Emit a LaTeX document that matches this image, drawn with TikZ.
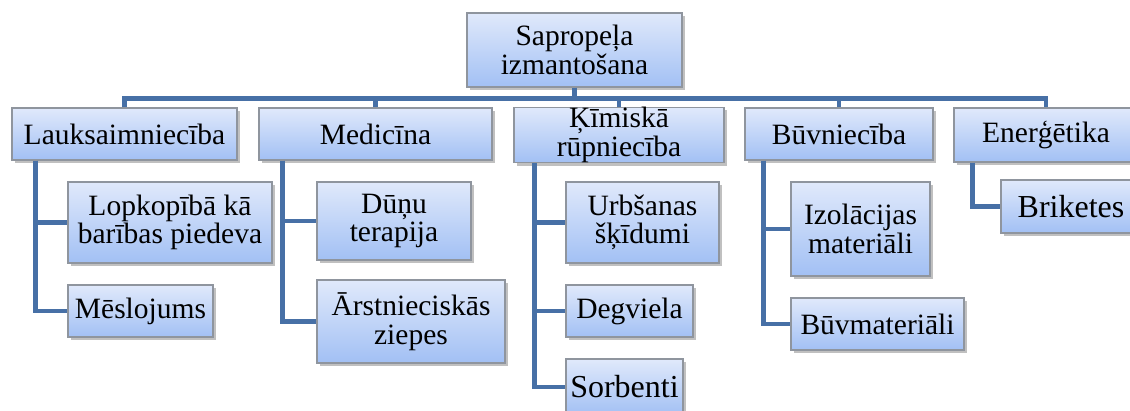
\documentclass[tikz,border=0pt]{standalone}
\usepackage{fontspec}
\setmainfont{Liberation Serif}
\usetikzlibrary{shadows}
\definecolor{linecol}{HTML}{4770A6}
\definecolor{boxtop}{HTML}{E0E9FB}
\definecolor{boxbot}{HTML}{A2C0F4}
\definecolor{boxborder}{HTML}{8F959E}
\tikzset{
  box/.style={draw=boxborder, line width=1.2pt, top color=boxtop, bottom color=boxbot,
    inner sep=0pt, align=center, font=\fontsize{29.5}{28.5}\selectfont,
    drop shadow={shadow xshift=3pt, shadow yshift=-3pt, opacity=0.35, fill=black!70}},
  bigtxt/.style={font=\fontsize{32}{32}\selectfont},
  conn/.style={draw=linecol, line width=4.5pt, line cap=butt, line join=miter}
}
\begin{document}
\begin{tikzpicture}[x=1pt,y=-1pt]
\useasboundingbox (0,0) rectangle (1130,410);
\fill[white] (0,0) rectangle (1130,410);
% root
\node[box, minimum width=215pt, minimum height=74pt] (root) at (574.5,50) {Sapropeļa\\izmantošana};
% level 1
\node[box, minimum width=225pt, minimum height=52pt] (lauk) at (124.5,134) {Lauksaimniecība};
\node[box, minimum width=233pt, minimum height=52pt] (med) at (375.5,134) {Medicīna};
\node[box, minimum width=210pt, minimum height=54pt] (kim) at (619,135) {Ķīmiskā\\rūpniecība};
\node[box, minimum width=188pt, minimum height=52pt] (buv) at (839,134) {Būvniecība};
\node[box, minimum width=184pt, minimum height=54pt] (ener) at (1046,135) {Enerģētika};
% level 2
\node[box, minimum width=204pt, minimum height=81pt] (lop) at (170,222.5) {Lopkopībā kā\\barības piedeva};
\node[box, minimum width=145pt, minimum height=52pt] (mes) at (140.5,311) {Mēslojums};
\node[box, minimum width=154pt, minimum height=78pt] (dun) at (394,221) {Dūņu\\terapija};
\node[box, minimum width=188pt, minimum height=83pt] (ars) at (411,321.5) {Ārstnieciskās\\ziepes};
\node[box, minimum width=153pt, minimum height=81pt] (urb) at (642.5,222.5) {Urbšanas\\šķīdumi};
\node[box, minimum width=127pt, minimum height=52pt] (deg) at (629.5,311) {Degviela};
\node[box, bigtxt, minimum width=117pt, minimum height=56pt] (sor) at (624.5,387) {Sorbenti};
\node[box, minimum width=139pt, minimum height=94pt] (izo) at (860.5,229) {Izolācijas\\materiāli};
\node[box, minimum width=173pt, minimum height=52pt] (bvm) at (877.5,324) {Būvmateriāli};
\node[box, bigtxt, minimum width=140pt, minimum height=53pt] (bri) at (1071,206.5) {Briketes};
% connectors
\path[conn] (root.south) -- ++(0,11) coordinate (bus);
\path[conn] (lauk.north) |- (bus) -| (ener.north);
\path[conn] (bus) -| (med.north);
\path[conn] (bus) -| (kim.north);
\path[conn] (bus) -| (buv.north);
\path[conn] ([xshift=24pt]lauk.south west) |- (lop.west);
\path[conn] ([xshift=24pt]lauk.south west) |- (mes.west);
\path[conn] ([xshift=24pt]med.south west) |- (dun.west);
\path[conn] ([xshift=24pt]med.south west) |- (ars.west);
\path[conn] ([xshift=21pt]kim.south west) |- (urb.west);
\path[conn] ([xshift=21pt]kim.south west) |- (deg.west);
\path[conn] ([xshift=21pt]kim.south west) |- (sor.west);
\path[conn] ([xshift=19pt]buv.south west) |- (izo.west);
\path[conn] ([xshift=19pt]buv.south west) |- (bvm.west);
\path[conn] ([xshift=19pt]ener.south west) |- (bri.west);
\end{tikzpicture}
\end{document}
